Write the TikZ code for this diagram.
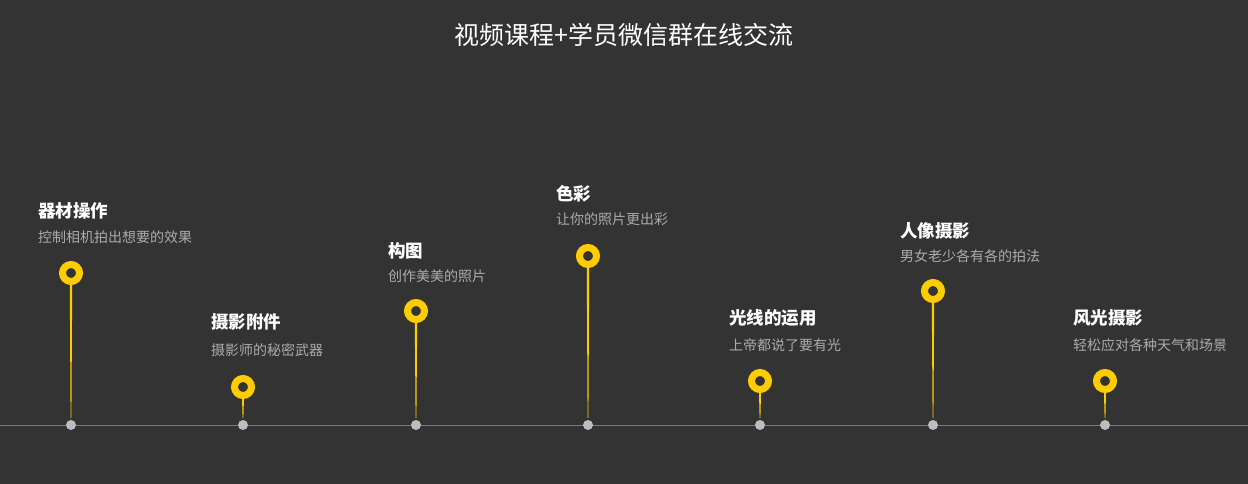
\documentclass[tikz,border=0pt]{standalone}
\usepackage{fontspec}
\setmainfont{Noto Sans CJK SC}
\usetikzlibrary{calc}
\definecolor{bgdark}{HTML}{333333}
\definecolor{pinyellow}{HTML}{FFCC00}
\definecolor{dotgray}{HTML}{BDBDBD}
\definecolor{subgray}{HTML}{ABABAB}
\definecolor{axisgray}{HTML}{7A7A7A}
\begin{document}
\begin{tikzpicture}[x=1pt,y=-1pt,
  pin/.style={circle,draw=pinyellow,line width=7pt,fill=bgdark,minimum size=17pt,inner sep=0pt},
  dot/.style={circle,fill=dotgray,minimum size=10pt,inner sep=0pt},
  stagetitle/.style={anchor=west,inner sep=0pt,text=white,font=\fontsize{17.5}{20}\selectfont\bfseries},
  stagesub/.style={anchor=west,inner sep=0pt,text=subgray,font=\fontsize{14}{17}\selectfont}]
  % Background
  \fill[bgdark] (0,0) rectangle (1248,484);
  \useasboundingbox (0,0) rectangle (1248,484);
  % Heading
  \node[text=white,font=\fontsize{25}{29}\selectfont] (heading) at (624,35) {视频课程+学员微信群在线交流};
  % Time axis
  \coordinate (axisL) at (0,425);
  \coordinate (axisR) at (1248,425);
  \draw[axisgray,line width=1pt] (axisL) -- (axisR);
  % Stages: pin x / pin y / text x / title y / sub y / title / subtitle
  \foreach \i/\x/\y/\tx/\ty/\sy/\ttl/\sub in {
      1/71/273/38/211/237/器材操作/控制相机拍出想要的效果,
      2/243/387/211/322/350/摄影附件/摄影师的秘密武器,
      3/416/311/388/251/276/构图/创作美美的照片,
      4/588/256/556/194/219/色彩/让你的照片更出彩,
      5/760/381/729/318/345/光线的运用/上帝都说了要有光,
      6/933/291/900/231/256/人像摄影/男女老少各有各的拍法,
      7/1105/381/1073/318/345/风光摄影/轻松应对各种天气和场景} {
    \node[dot] (d\i) at (\x,425) {};
    \coordinate (c\i) at (\x,\y);
    % tapered stem from pin to dot
    \fill[pinyellow] ($(c\i)+(-1.3,0)$) -- ($(c\i)+(1.3,0)$)
      -- ($(d\i.north)+(0.4,-2)$) -- ($(d\i.north)+(-0.4,-2)$) -- cycle;
    \node[pin] (p\i) at (c\i) {};
    \node[stagetitle] (t\i) at (\tx,\ty) {\ttl};
    \node[stagesub] (s\i) at (\tx,\sy) {\sub};
  }
\end{tikzpicture}
\end{document}
